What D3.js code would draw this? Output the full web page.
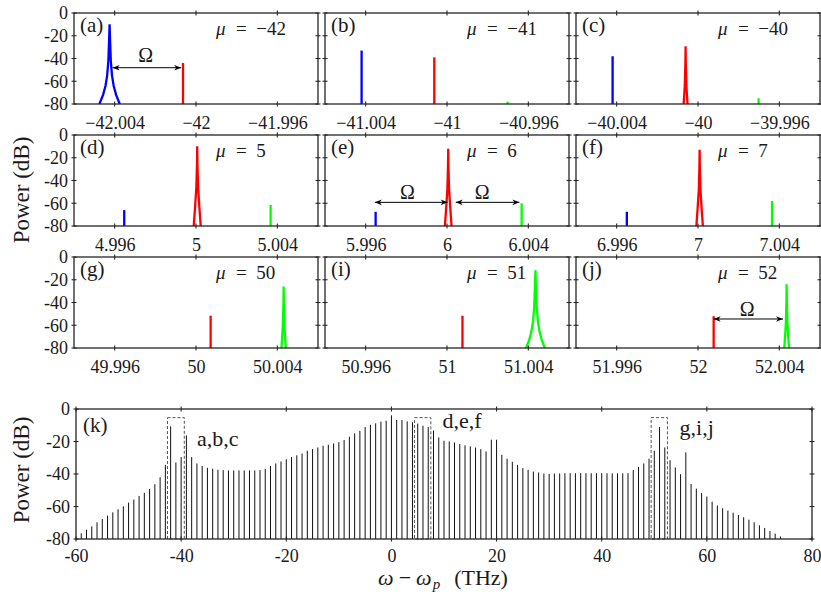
<!DOCTYPE html>
<html>
<head>
<meta charset="utf-8">
<script src="https://cdn.jsdelivr.net/npm/d3@7"></script>
<style>
  body { margin: 0; background: #fff; }
</style>
</head>
<body>
<svg id="fig" width="821" height="594"></svg>
<script>
// ---- small panels: mode number and the three sidebands (offset from mu, THz; level, dB)
const MU = [-42, -41, -40, 5, 6, 7, 50, 51, 52];
const LETTERS = ['a', 'b', 'c', 'd', 'e', 'f', 'g', 'i', 'j'];
const BLUE_DX = [-0.00425, -0.0042, -0.0042, -0.00353, -0.00351, -0.0035, null, null, null];
const BLUE_DB = [-10, -33, -38, -66, -67.5, -67.5, null, null, null];
const BLUE_SHAPE = ['wide', 'line', 'line', 'line', 'line', 'line', null, null, null];
const RED_DX = [-0.00064, -0.000625, -0.00061, 0.00006, 0.00006, 0.00008, 0.00072, 0.00076, 0.00077];
const RED_DB = [-44, -39, -29.3, -10, -12, -13, -51.6, -51.6, -52];
const RED_SHAPE = ['line', 'line', 'narrow', 'narrow', 'narrow', 'narrow', 'line', 'line', 'line'];
const GREEN_DX = [null, 0.00298, 0.00298, 0.00367, 0.00367, 0.00364, 0.00431, 0.00435, 0.00436];
const GREEN_DB = [null, -78, -75, -61.5, -60, -58, -26, -11.6, -24];
const GREEN_SHAPE = [null, 'line', 'line', 'line', 'line', 'line', 'narrow', 'wide', 'narrow'];

// line wings: [offset from centre (THz), dB below the peak]
const WIDE_WING = [[0.00002, 12], [0.00006, 32], [0.00012, 45], [0.0002, 54], [0.00032, 62], [0.0005, 70], [0.0006, 74]];
const NARROW_WING = [[0.00001, 15], [0.00004, 35], [0.0001, 52], [0.00018, 72]];

// double arrows (Omega) in panels a, e, e, j
const ARROW_PANEL = [0, 4, 4, 8];
const ARROW_X0 = [-0.0041, -0.00355, 0.00043, 0.00077];
const ARROW_X1 = [-0.00073, 0.00003, 0.00356, 0.00418];
const ARROW_DB = [-48.1, -59.2, -59.2, -54.5];
const OMEGA_DX = [-0.00247, -0.00194, 0.00173, 0.00242];
const OMEGA_DB = [-43.1, -56.3, -56.3, -51.9];

// ---- panel (k): comb line powers for mu = -59 .. 74
const K_MU = d3.range(-59, 75);
const K_DB = [
  -76.5, -74.3, -72.2, -69.7, -67.7, -65.6, -63.6, -61.7, -59.9, -57.6,
  -55.7, -53.5, -51.6, -49.2, -46.3, -42, -34.4, -10.7, -32.9, -29.6,
  -16.3, -29.6, -33.5, -35, -36.2, -36.8, -37.4, -37.6, -37.8, -37.8,
  -37.8, -37.8, -37.8, -37.8, -37.6, -36.8, -35, -33.5, -32.3, -30.9,
  -29.6, -28.5, -27.4, -25.7, -24.7, -23.7, -22.6, -22, -21.2, -20.4,
  -19.1, -17.1, -15, -13.4, -11.1, -9.7, -8.8, -7.8, -7.2, -3.9,
  -6.8, -6.8, -7.6, -8.2, -9, -10.3, -11.1, -13.2, -17.5, -19.5,
  -20, -20.6, -21.6, -22.4, -23, -23.7, -24.7, -26.1, -18.9, -18.9,
  -28.2, -30.6, -32.5, -34.4, -36.4, -37.4, -38.5, -39.1, -39.7, -39.9,
  -39.7, -39.7, -39.5, -39.5, -39.5, -39.5, -39.5, -39.5, -39.5, -39.5,
  -39.5, -39.6, -39.6, -39.6, -39.5, -37.6, -35.6, -33.5, -30.6, -25.7,
  -11.1, -23.7, -31.5, -36, -40.1, -26.7, -46.1, -49, -51.6, -53.9,
  -57, -59.4, -61.1, -62.5, -63.8, -65.2, -66.6, -68.1, -69.7, -71.6,
  -73.2, -75.1, -76.7, -78.4
];
const BOX_X0 = [-42.6, 4.4, 49.4];
const BOX_X1 = [-39.4, 7.5, 52.5];
const BOX_TOP = -5.3;
const BOX_LABELS = ['a,b,c', 'd,e,f', 'g,i,j'];
const BOX_LABEL_X = [-37.0, 9.7, 54.8];
const BOX_LABEL_DB = [-22.6, -11.5, -16];

const Y_TICKS = [0, -20, -40, -60, -80];
const K_XTICKS = [-60, -40, -20, 0, 20, 40, 60, 80];

// x title pieces: text, style, size, gap before, baseline shift
const XT_TEXT = ['\u03C9', '\u2212', '\u03C9', 'p', '(THz)'];
const XT_STYLE = ['italic', 'normal', 'italic', 'italic', 'normal'];
const XT_SIZE = [22, 22, 22, 15, 22];
const XT_GAP = [0, 5, 5, 1, 14];
const XT_SHIFT = [0, 0, 0, 4, 0];

const FONT = "'Liberation Serif'";
const AXIS = '#262626';
const TXT = '#1a1a1a';
const COL_X = [74, 325, 576], ROW_Y = [13, 135, 257], PW = 244, PH = 91;

const svg = d3.select('#fig');
const defs = svg.append('defs');
defs.append('marker').attr('id', 'arr')
  .attr('viewBox', '0 0 10 10').attr('refX', 10).attr('refY', 5)
  .attr('markerWidth', 8).attr('markerHeight', 7).attr('markerUnits', 'userSpaceOnUse')
  .attr('orient', 'auto-start-reverse')
  .append('path').attr('d', 'M0,1 L10,5 L0,9 L3,5 Z').attr('fill', '#000');

function fmtSmall(v) {
  return String(+v.toFixed(3)).replace('-', '\u2212');
}

function label(sel) {
  return sel.append('text').style('font-family', FONT).attr('fill', TXT);
}

function frame(g, x, y, w, h, xt, xfmt, withY, pad) {
  g.append('rect').attr('width', w).attr('height', h)
    .attr('fill', 'none').attr('stroke', AXIS).attr('stroke-width', 1.3);
  const tk = 2.5;
  xt.forEach(v => [0, h].forEach(yy => g.append('line')
    .attr('x1', x(v)).attr('x2', x(v)).attr('y1', yy - tk).attr('y2', yy + tk)
    .attr('stroke', AXIS).attr('stroke-width', 1.1)));
  Y_TICKS.forEach(v => [0, w].forEach(xx => g.append('line')
    .attr('x1', xx - tk).attr('x2', xx + tk).attr('y1', y(v)).attr('y2', y(v))
    .attr('stroke', AXIS).attr('stroke-width', 1.1)));

  const xa = g.append('g').attr('transform', `translate(0,${h})`)
    .call(d3.axisBottom(x).tickValues(xt).tickFormat(xfmt).tickSize(0).tickPadding(pad));
  xa.select('.domain').remove();
  xa.attr('font-size', 18).attr('font-family', null);
  xa.selectAll('text').style('font-family', FONT).attr('fill', TXT);

  if (withY) {
    const ya = g.append('g')
      .call(d3.axisLeft(y).tickValues(Y_TICKS).tickFormat(d => String(d)).tickSize(0).tickPadding(6));
    ya.select('.domain').remove();
    ya.attr('font-size', 18).attr('font-family', null);
    ya.selectAll('text').style('font-family', FONT).attr('fill', TXT);
  }
}

function peakPath(x, y, cx, top, shape) {
  let pts;
  if (shape === 'line') {
    pts = [[cx, -90], [cx, top]];
  } else {
    const wing = shape === 'wide' ? WIDE_WING : NARROW_WING;
    pts = [
      ...wing.slice().reverse().map(([dx, d]) => [cx - dx, top - d]),
      [cx, top],
      ...wing.map(([dx, d]) => [cx + dx, top - d])
    ];
  }
  return d3.line().x(p => x(p[0])).y(p => y(p[1]))(pts);
}

// ---- the nine zoomed panels
MU.forEach((mu, i) => {
  const px = COL_X[i % 3], py = ROW_Y[Math.floor(i / 3)];
  const g = svg.append('g').attr('transform', `translate(${px},${py})`);
  const x = d3.scaleLinear().domain([mu - 0.006, mu + 0.006]).range([0, PW]);
  const y = d3.scaleLinear().domain([-80, 0]).range([PH, 0]);

  defs.append('clipPath').attr('id', `clip${i}`)
    .append('rect').attr('width', PW).attr('height', PH);
  const plot = g.append('g').attr('clip-path', `url(#clip${i})`);

  [[BLUE_DX, BLUE_DB, BLUE_SHAPE, '#0000ff'],
   [RED_DX, RED_DB, RED_SHAPE, '#ff0000'],
   [GREEN_DX, GREEN_DB, GREEN_SHAPE, '#00ff00']].forEach(([dx, db, sh, col]) => {
    if (dx[i] === null) return;
    plot.append('path')
      .attr('d', peakPath(x, y, mu + dx[i], db[i], sh[i]))
      .attr('fill', 'none').attr('stroke', col).attr('stroke-width', 2.3);
  });

  ARROW_PANEL.forEach((p, k) => {
    if (p !== i) return;
    g.append('line')
      .attr('x1', x(mu + ARROW_X0[k])).attr('x2', x(mu + ARROW_X1[k]))
      .attr('y1', y(ARROW_DB[k])).attr('y2', y(ARROW_DB[k]))
      .attr('stroke', '#000').attr('stroke-width', 1)
      .attr('marker-start', 'url(#arr)').attr('marker-end', 'url(#arr)');
    label(g).attr('x', x(mu + OMEGA_DX[k])).attr('y', y(OMEGA_DB[k]))
      .attr('text-anchor', 'middle').attr('font-size', 20).text('\u03A9');
  });

  const xt = [mu - 0.004, mu, mu + 0.004];
  frame(g, x, y, PW, PH, xt, fmtSmall, i % 3 === 0, 12);

  label(g).attr('x', 6).attr('y', 19).attr('font-size', 21).text(`(${LETTERS[i]})`);
  const lab = label(g).attr('x', 142).attr('y', 22).attr('font-size', 19);
  lab.append('tspan').attr('font-style', 'italic').text('\u03BC');
  lab.append('tspan').attr('dx', 1).text(`\u2002=\u2002${String(mu).replace('-', '\u2212')}`);
});

// ---- panel (k)
const KL = 76, KT = 409, KW = 736, KH = 130;
const kg = svg.append('g').attr('transform', `translate(${KL},${KT})`);
const kx = d3.scaleLinear().domain([-60, 80]).range([0, KW]);
const ky = d3.scaleLinear().domain([-80, 0]).range([KH, 0]);

kg.append('g').selectAll('line').data(K_MU).join('line')
  .attr('x1', d => kx(d)).attr('x2', d => kx(d))
  .attr('y1', ky(-80)).attr('y2', (d, i) => ky(K_DB[i]))
  .attr('stroke', '#111').attr('stroke-width', 1);

BOX_X0.forEach((x0, k) => {
  kg.append('rect')
    .attr('x', kx(x0)).attr('y', ky(BOX_TOP))
    .attr('width', kx(BOX_X1[k]) - kx(x0)).attr('height', ky(-80) - ky(BOX_TOP))
    .attr('fill', 'none').attr('stroke', '#555').attr('stroke-width', 1)
    .attr('stroke-dasharray', '3,2');
  label(kg).attr('x', kx(BOX_LABEL_X[k])).attr('y', ky(BOX_LABEL_DB[k]))
    .attr('font-size', 22).text(BOX_LABELS[k]);
});

frame(kg, kx, ky, KW, KH, K_XTICKS, d => String(d), true, 10);
label(kg).attr('x', 7).attr('y', 23).attr('font-size', 21).text('(k)');

// ---- axis titles
[190, 470].forEach(cy => {
  label(svg).attr('transform', `translate(29,${cy}) rotate(-90)`)
    .attr('text-anchor', 'middle').attr('font-size', 23).text('Power (dB)');
});

// x title laid out piece by piece, then centred
const xtg = svg.append('g');
let cur = 0;
XT_TEXT.forEach((t, k) => {
  cur += XT_GAP[k];
  const el = label(xtg).attr('x', cur).attr('y', XT_SHIFT[k])
    .attr('font-size', XT_SIZE[k]).attr('font-style', XT_STYLE[k]).text(t);
  cur += el.node().getComputedTextLength();
});
xtg.attr('transform', `translate(${443 - cur / 2},585)`);
</script>
</body>
</html>
